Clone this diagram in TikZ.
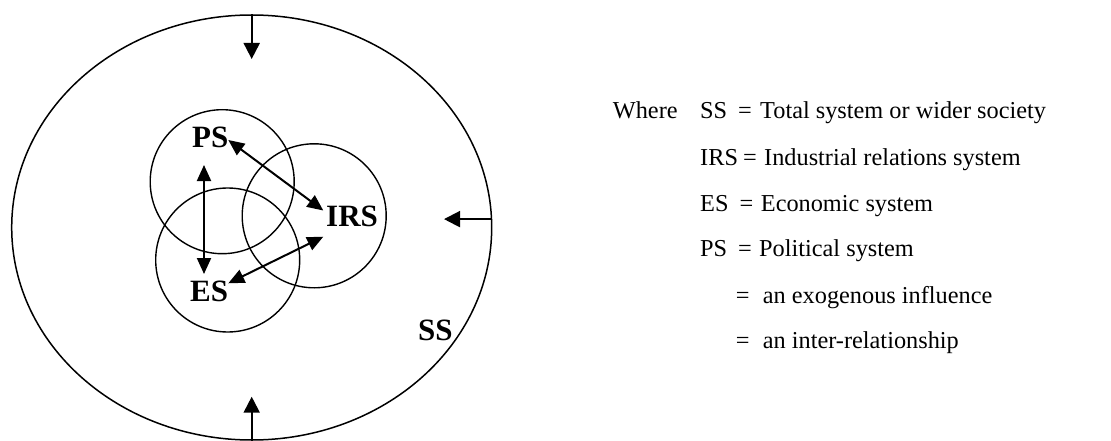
\documentclass[tikz,border=0pt]{standalone}
\usepackage{fontspec}
\setmainfont{Liberation Serif}
\usetikzlibrary{arrows.meta,shapes.geometric}
\begin{document}
\begin{tikzpicture}[x=1pt,y=-1pt,
  sysring/.style={draw,line width=1.4pt,circle,minimum size=144pt,inner sep=0pt},
  flow/.style={line width=2pt,-{Triangle[length=16pt,width=16pt]}},
  mutual/.style={line width=2pt,{Triangle[length=16pt,width=14pt]}-{Triangle[length=16pt,width=14pt]}},
  tag/.style={font=\fontsize{31}{31}\selectfont\bfseries,anchor=base west,inner sep=0pt},
  key/.style={font=\fontsize{24.3}{24}\selectfont,anchor=base west,inner sep=0pt}]
\useasboundingbox[fill=white] (0,0) rectangle (1111,441);

% wider society
\node[draw,line width=1.5pt,ellipse,minimum width=480pt,minimum height=425pt,inner sep=0pt] (ss) at (251.7,227.5) {};

% subsystems
\node[sysring] (psc) at (222.2,181.7) {};
\node[sysring] (esc) at (227.7,260) {};
\node[sysring] (irsc) at (314.2,215.8) {};

\node[tag] (ps) at (192,147.5) {PS};
\node[tag] (es) at (190,301) {ES};
\node[tag] (irs) at (326,226.7) {IRS};
\node[tag] (sslab) at (418,340) {SS};

% exogenous influences
\coordinate (intop) at (251.7,59);
\coordinate (inright) at (444,216.7);
\coordinate (inbottom) at (251.7,396.7);
\draw[flow] (ss.north) -- (intop);
\draw[flow] (ss.2.6) -- (ss.2.6 -| inright);
\draw[flow] (ss.south) -- (inbottom);

% inter-relationships
\coordinate (psA) at (228.3,140);
\coordinate (irsA) at (323.3,210.5);
\coordinate (psB) at (204,165);
\coordinate (esB) at (204,274);
\coordinate (esC) at (228.3,283.3);
\coordinate (irsC) at (323.3,236.7);
\draw[mutual] (psA) -- (irsA);
\draw[mutual] (psB) -- (esB);
\draw[mutual] (esC) -- (irsC);

% key
\node[key] (where) at (612.7,119) {Where};
\node[key] (k1a) at (700,119) {SS};
\node[key] (k1b) at (738,119) {=};
\node[key] (k1c) at (760,119) {Total system or wider society};
\node[key] (k2a) at (700,165) {IRS};
\node[key] (k2b) at (743,165) {=};
\node[key] (k2c) at (764,165) {Industrial relations system};
\node[key] (k3a) at (700,211) {ES};
\node[key] (k3b) at (739.3,211) {=};
\node[key] (k3c) at (760.7,211) {Economic system};
\node[key] (k4a) at (700,256.7) {PS};
\node[key] (k4b) at (738,256.7) {=};
\node[key] (k4c) at (759,256.7) {Political system};
\node[key] (k5b) at (735.7,303.3) {=};
\node[key] (k5c) at (762.7,303.3) {an exogenous influence};
\node[key] (k6b) at (735.7,348.3) {=};
\node[key] (k6c) at (762.7,348.3) {an inter-relationship};
\end{tikzpicture}
\end{document}
